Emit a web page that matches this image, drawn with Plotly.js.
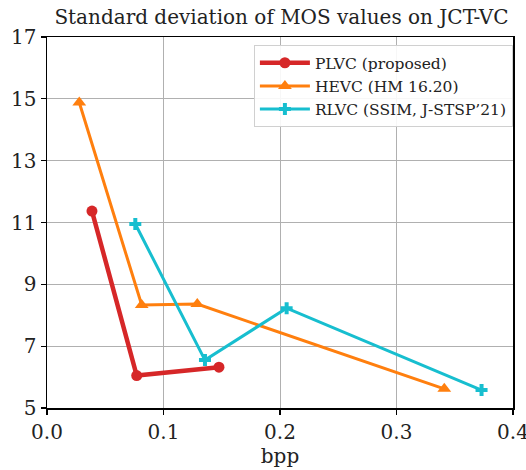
<!DOCTYPE html>
<html><head><meta charset="utf-8">
<script src="https://cdn.plot.ly/plotly-3.0.1.min.js"></script>
<style>body{margin:0;background:#fff}#c{width:526px;height:470px}</style>
</head><body><div id="c"></div>
<script>
const plvcX = [0.0386, 0.077, 0.1476];
const plvcY = [11.37, 6.05, 6.32];
const hevcX = [0.0277, 0.0813, 0.129, 0.341];
const hevcY = [14.88, 8.33, 8.36, 5.62];
const rlvcX = [0.0758, 0.1356, 0.2057, 0.373];
const rlvcY = [10.95, 6.55, 8.23, 5.58];
const names = ["PLVC (proposed)", "HEVC (HM 16.20)", "RLVC (SSIM, J-STSP’21)"];
const xTicks = [0.0, 0.1, 0.2, 0.3, 0.4];
const xTickText = ["0.0", "0.1", "0.2", "0.3", "0.4"];
const yTicks = [5, 7, 9, 11, 13, 15, 17];

const font = "DejaVu Serif, serif";
const traces = [
  {x: plvcX, y: plvcY, name: names[0], mode: "lines+markers",
   line: {color: "#d62728", width: 4.5}, marker: {symbol: "circle", size: 11, color: "#d62728"}},
  {x: hevcX, y: hevcY, name: names[1], mode: "lines+markers",
   line: {color: "#ff7f0e", width: 3}, marker: {symbol: "triangle-up", size: 12, color: "#ff7f0e"}},
  {x: rlvcX, y: rlvcY, name: names[2], mode: "lines+markers",
   line: {color: "#17becf", width: 3}, marker: {symbol: "cross", size: 10, color: "#17becf"}}
];
const axisCommon = {showline: true, linecolor: "#000", linewidth: 1.5, mirror: true,
  ticks: "outside", ticklen: 5, tickcolor: "#000", tickwidth: 1.2,
  showgrid: true, gridcolor: "#b0b0b0", gridwidth: 1, zeroline: false,
  ticklabeloverflow: "allow",
  tickfont: {family: font, size: 20, color: "#222"}};
const layout = {
  width: 526, height: 470,
  margin: {l: 47, r: 13, t: 37, b: 62},
  paper_bgcolor: "#fff", plot_bgcolor: "#fff",
  title: {text: "Standard deviation of MOS values on JCT-VC", font: {family: font, size: 20, color: "#222"},
    x: 0.535, xanchor: "center", y: 0.978, yanchor: "top"},
  xaxis: Object.assign({}, axisCommon, {range: [0, 0.4], tickvals: xTicks, ticktext: xTickText,
    title: {text: "bpp", font: {family: font, size: 20, color: "#222"}, standoff: 5}}),
  yaxis: Object.assign({}, axisCommon, {range: [5, 17], tickvals: yTicks}),
  showlegend: true,
  legend: {x: 0.444, y: 0.978, xanchor: "left", yanchor: "top", bgcolor: "rgba(255,255,255,0.9)",
    bordercolor: "#d0d0d0", borderwidth: 1, font: {family: font, size: 15.5, color: "#222"},
    itemwidth: 50, tracegroupgap: 0}
};
Plotly.newPlot("c", traces, layout, {displayModeBar: false, staticPlot: true});
</script></body></html>
